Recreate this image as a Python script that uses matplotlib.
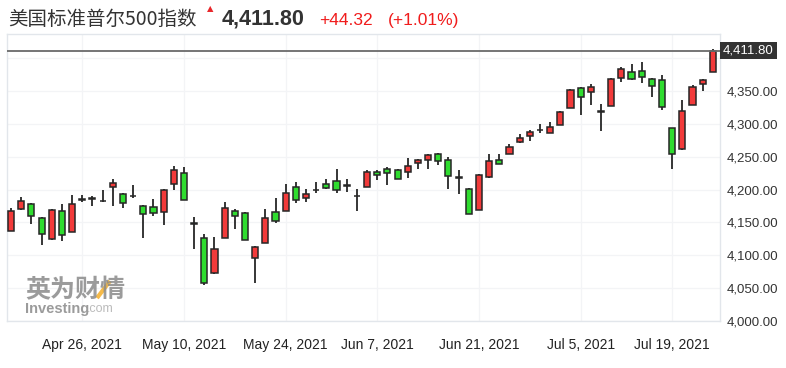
import numpy as np
import matplotlib
matplotlib.use("Agg")
import matplotlib.pyplot as plt
import matplotlib.transforms as mtransforms
from matplotlib.lines import Line2D

plt.rcParams['font.family'] = ['Liberation Sans', 'Noto Sans CJK SC', 'DejaVu Sans']

# S&P 500 daily candles, Apr 15 - Jul 23 2021
dates = ['Apr 15', 'Apr 16', 'Apr 19', 'Apr 20', 'Apr 21', 'Apr 22', 'Apr 23',
         'Apr 26', 'Apr 27', 'Apr 28', 'Apr 29', 'Apr 30', 'May 3', 'May 4',
         'May 5', 'May 6', 'May 7', 'May 10', 'May 11', 'May 12', 'May 13',
         'May 14', 'May 17', 'May 18', 'May 19', 'May 20', 'May 21', 'May 24',
         'May 25', 'May 26', 'May 27', 'May 28', 'Jun 1', 'Jun 2', 'Jun 3',
         'Jun 4', 'Jun 7', 'Jun 8', 'Jun 9', 'Jun 10', 'Jun 11', 'Jun 14',
         'Jun 15', 'Jun 16', 'Jun 17', 'Jun 18', 'Jun 21', 'Jun 22', 'Jun 23',
         'Jun 24', 'Jun 25', 'Jun 28', 'Jun 29', 'Jun 30', 'Jul 1', 'Jul 2',
         'Jul 6', 'Jul 7', 'Jul 8', 'Jul 9', 'Jul 12', 'Jul 13', 'Jul 14',
         'Jul 15', 'Jul 16', 'Jul 19', 'Jul 20', 'Jul 21', 'Jul 22', 'Jul 23']

opens = [4137.2, 4171.2, 4177.9, 4156.6, 4125.5, 4167.7, 4135.7,
         4184.5, 4187.0, 4183.0, 4204.3, 4194.1, 4190.0, 4175.3,
         4173.8, 4166.2, 4208.4, 4225.2, 4147.5, 4127.0, 4072.7,
         4126.1, 4167.7, 4164.6, 4095.6, 4118.4, 4166.2, 4167.7,
         4204.3, 4188.0, 4199.9, 4208.4, 4213.4, 4205.2, 4190.0,
         4204.3, 4227.1, 4231.2, 4230.6, 4226.7, 4240.4, 4245.4,
         4254.1, 4245.9, 4218.0, 4201.7, 4169.2, 4219.9, 4245.9,
         4255.0, 4271.8, 4281.6, 4290.7, 4287.0, 4298.8, 4323.6,
         4354.7, 4348.6, 4318.2, 4327.7, 4369.7, 4379.6, 4380.1,
         4368.4, 4366.6, 4293.6, 4261.7, 4329.3, 4360.8, 4379.6]

highs = [4171.8, 4189.5, 4180.0, 4159.0, 4171.0, 4177.9, 4191.6,
         4192.0, 4190.5, 4199.2, 4216.0, 4195.0, 4206.9, 4176.0,
         4185.5, 4200.5, 4236.7, 4235.2, 4158.5, 4132.2, 4128.0,
         4181.4, 4170.0, 4166.0, 4114.0, 4170.3, 4186.9, 4208.4,
         4212.3, 4200.8, 4211.9, 4216.0, 4231.2, 4216.5, 4201.7,
         4230.6, 4230.6, 4234.8, 4232.0, 4248.0, 4247.0, 4255.0,
         4256.1, 4250.0, 4230.6, 4202.5, 4224.0, 4254.1, 4254.1,
         4269.4, 4284.6, 4290.7, 4299.8, 4302.3, 4319.5, 4353.5,
         4356.7, 4360.8, 4330.3, 4370.0, 4387.2, 4391.3, 4393.9,
         4369.5, 4375.0, 4294.5, 4336.4, 4359.2, 4368.4, 4414.5]

lows = [4137.2, 4169.2, 4148.3, 4115.4, 4124.0, 4122.0, 4135.7,
        4181.0, 4175.3, 4181.0, 4175.3, 4172.7, 4188.0, 4127.0,
        4160.0, 4146.3, 4199.7, 4184.5, 4110.2, 4054.9, 4071.0,
        4126.1, 4140.7, 4123.5, 4058.4, 4118.4, 4149.9, 4167.7,
        4180.3, 4181.9, 4195.6, 4201.5, 4195.6, 4197.0, 4167.7,
        4204.3, 4214.9, 4206.9, 4216.0, 4218.4, 4232.2, 4232.2,
        4237.8, 4201.7, 4194.0, 4163.0, 4169.2, 4217.5, 4239.0,
        4255.0, 4270.3, 4273.8, 4285.5, 4287.0, 4298.8, 4323.6,
        4313.6, 4328.8, 4288.6, 4327.7, 4363.3, 4367.0, 4361.7,
        4340.4, 4321.2, 4231.2, 4260.5, 4329.3, 4350.6, 4379.6]

closes = [4167.7, 4182.9, 4160.1, 4132.2, 4169.7, 4131.7, 4177.9,
          4186.5, 4185.5, 4182.0, 4209.9, 4179.4, 4191.0, 4162.6,
          4164.2, 4199.2, 4230.2, 4184.5, 4149.0, 4058.4, 4109.3,
          4171.8, 4160.1, 4123.5, 4112.8, 4156.6, 4152.4, 4194.7,
          4184.5, 4193.1, 4198.8, 4202.3, 4199.7, 4206.5, 4191.0,
          4227.1, 4222.6, 4225.1, 4216.9, 4236.3, 4245.9, 4253.5,
          4243.9, 4220.6, 4219.0, 4163.6, 4223.0, 4243.9, 4239.8,
          4265.2, 4279.0, 4288.1, 4291.5, 4295.7, 4318.6, 4351.7,
          4340.4, 4356.7, 4319.0, 4368.4, 4383.4, 4368.4, 4372.0,
          4358.2, 4325.2, 4255.0, 4320.1, 4356.7, 4366.9, 4411.8]

tick_at = ['Apr 26', 'May 10', 'May 24', 'Jun 7', 'Jun 21', 'Jul 6', 'Jul 19']
tick_labels = ['Apr 26, 2021', 'May 10, 2021', 'May 24, 2021', 'Jun 7, 2021',
               'Jun 21, 2021', 'Jul 5, 2021', 'Jul 19, 2021']
y_ticks = [4000, 4050, 4100, 4150, 4200, 4250, 4300, 4350, 4400]

last_price = 4411.80
change = 44.32
change_pct = 1.01

o = np.array(opens)
h = np.array(highs)
l = np.array(lows)
c = np.array(closes)
x = np.arange(len(dates))

up_color = '#f23a3a'
down_color = '#2fdc2f'
edge = '#262626'

fig = plt.figure(figsize=(7.86, 3.68), dpi=100)
fig.patch.set_facecolor('white')
ax = fig.add_axes([7 / 786, 1 - 321 / 368, 713 / 786, 287 / 368])

# candles: red = up, green = down
colors = [up_color if cc >= oo else down_color for oo, cc in zip(o, c)]
body_low = np.minimum(o, c)
body_h = np.maximum(np.abs(c - o), 0.6)
ax.vlines(x, l, h, color=edge, lw=1.3, zorder=2)
ax.bar(x, body_h, bottom=body_low, width=0.6, color=colors,
       edgecolor=edge, linewidth=1.1, zorder=3)

# current price line + label
ax.axhline(last_price, color='#6a6a6a', lw=1.3, zorder=4)
trans = mtransforms.blended_transform_factory(ax.transAxes, ax.transData)
ax.text(1.004, last_price, f'{last_price:,.2f}', transform=trans,
        color='white', fontsize=9.5, ha='left', va='center', clip_on=False,
        bbox=dict(boxstyle='square,pad=0.22', fc='#333333', ec='none'), zorder=5)

ax.set_xlim(-0.4, 69.7)
ax.set_ylim(4000, 4437)

ax.set_xticks([dates.index(d) for d in tick_at])
ax.set_xticklabels(tick_labels)
ax.set_yticks(y_ticks)
ax.set_yticklabels(['' if v == 4400 else f'{v:,.2f}' for v in y_ticks])
ax.yaxis.tick_right()
ax.tick_params(axis='y', length=0, pad=5, labelsize=9.5, labelcolor='#333333')
ax.tick_params(axis='x', length=0, pad=12, labelsize=10, labelcolor='#222222')

ax.grid(True, color='#f3f4f6', lw=0.9, zorder=0)
ax.set_axisbelow(True)
for s in ax.spines.values():
    s.set_color('#e2e6eb')
    s.set_linewidth(1)

# header
fig.text(8 / 786, 1 - 25 / 368, '美国标准普尔500指数', fontsize=14, color='#333333',
         family=['Noto Sans CJK SC', 'DejaVu Sans'], va='baseline')
fig.text(210 / 786, 1 - 9 / 368, '▲', fontsize=6, color='#e8262a',
         family='DejaVu Sans', ha='center', va='center')
fig.text(222 / 786, 1 - 25 / 368, f'{last_price:,.2f}', fontsize=15.5,
         fontweight='bold', color='#333333', va='baseline')
fig.text(319 / 786, 1 - 25 / 368, f'+{change:.2f}', fontsize=12.5,
         color='#f01c1c', va='baseline')
fig.text(388 / 786, 1 - 25 / 368, f'(+{change_pct:.2f}%)', fontsize=12.5,
         color='#f01c1c', va='baseline')

# watermark
fig.text(25 / 786, 1 - 290 / 368, '英为财情', fontsize=18, fontweight='bold',
         color='#8a8a8a', family=['Noto Sans CJK SC'], va='center', alpha=0.85)
fig.add_artist(Line2D([97 / 786, 110 / 786], [1 - 298 / 368, 1 - 281 / 368],
                      color='#f5b335', lw=3, alpha=0.9, solid_capstyle='butt'))
fig.text(25 / 786, 1 - 309 / 368, 'Investing', fontsize=10.5, fontweight='bold',
         color='#8a8a8a', va='center', alpha=0.85)
fig.text(87 / 786, 1 - 309 / 368, '.com', fontsize=9, color='#b0b0b0',
         va='center', alpha=0.85)

fig.savefig('out.png', dpi=100, facecolor='white')
